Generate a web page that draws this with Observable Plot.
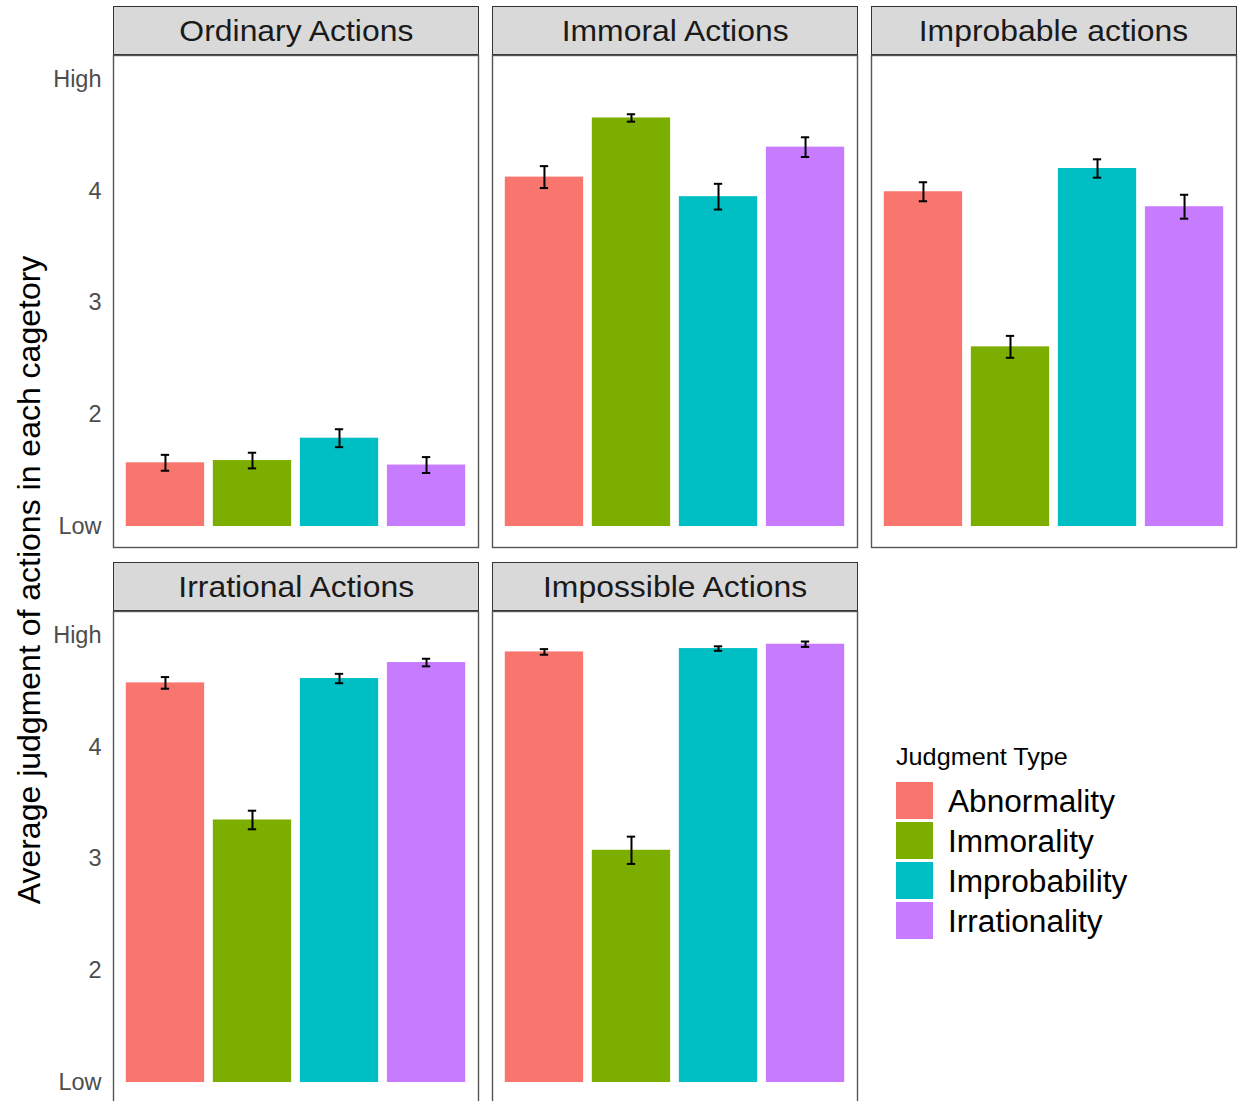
<!DOCTYPE html>
<html>
<head>
<meta charset="utf-8">
<script src="https://cdn.jsdelivr.net/npm/d3@7"></script>
<script src="https://cdn.jsdelivr.net/npm/@observablehq/plot@0.6"></script>
<style>
  html, body { margin: 0; padding: 0; background: #fff; }
  #root { position: relative; width: 1238px; height: 1101px; overflow: hidden; background: #fff;
          font-family: "Liberation Sans", Arial, sans-serif; }
  .strip { position: absolute; box-sizing: border-box; background: #d9d9d9; border: 1.4px solid #333;
           display: flex; align-items: center; justify-content: center; color: #1a1a1a; font-size: 29px; padding-top: 2px; }
  .strip span { display: inline-block; transform: scaleX(1.1); }
  .panel { position: absolute; }
  .ytitle { position: absolute; left: 29px; top: 580px; transform: translate(-50%, -50%) rotate(-90deg);
            white-space: nowrap; font-size: 32px; color: #000; }
  .legend { position: absolute; left: 896px; top: 742px; color: #000; }
  .legend .ttl { font-size: 24px; line-height: 30px; margin-bottom: 8px; transform: scaleX(1.05); transform-origin: left; }
  .legend .row { display: flex; align-items: center; height: 40px; }
  .legend .sw { width: 37px; height: 37px; margin-right: 15px; }
  .legend .lab { font-size: 31px; padding-top: 4px; transform: scaleX(1.02); transform-origin: left; }
</style>
</head>
<body>
<div id="root"></div>
<script>
// ---- data ----
const categories = ["Ordinary Actions", "Immoral Actions", "Improbable actions", "Irrational Actions", "Impossible Actions"];
const judgmentTypes = ["Abnormality", "Immorality", "Improbability", "Irrationality"];
const colors = ["#F8766D", "#7CAE00", "#00BFC4", "#C77CFF"];

// mean judgments per category (order of categories above)
const abnormality   = [1.57, 4.125, 3.994, 4.574, 4.851];
const immorality    = [1.59, 4.654, 2.607, 3.348, 3.077];
const improbability = [1.79, 3.95,  4.202, 4.613, 4.881];
const irrationality = [1.55, 4.393, 3.86,  4.756, 4.92];

// standard errors
const seAbnormality   = [0.071, 0.098, 0.085, 0.052, 0.025];
const seImmorality    = [0.070, 0.033, 0.098, 0.083, 0.122];
const seImprobability = [0.080, 0.115, 0.082, 0.042, 0.020];
const seIrrationality = [0.071, 0.088, 0.107, 0.034, 0.024];

const yTicks = [1, 2, 3, 4, 5];
const yTickLabels = ["Low", "2", "3", "4", "High"];

// ---- build table ----
const seriesMeans = [abnormality, immorality, improbability, irrationality];
const seriesSE = [seAbnormality, seImmorality, seImprobability, seIrrationality];
const data = [];
categories.forEach((cat, ci) => {
  judgmentTypes.forEach((t, ti) => {
    data.push({category: cat, type: t, mean: seriesMeans[ti][ci], se: seriesSE[ti][ci]});
  });
});

// ---- layout ----
const root = document.getElementById("root");
const colLeft = [113, 492, 871];
const rowTop = [6, 562];
const panelW = 365, stripH = 49, panelH = 492;
const font = '"Liberation Sans", Arial, sans-serif';

categories.forEach((cat, i) => {
  const col = i % 3, row = Math.floor(i / 3);
  const left = colLeft[col], top = rowTop[row];

  const strip = document.createElement("div");
  strip.className = "strip";
  Object.assign(strip.style, {left: left + "px", top: top + "px", width: (panelW + 1) + "px", height: stripH + "px"});
  const sp = document.createElement("span");
  sp.textContent = cat;
  strip.appendChild(sp);
  root.appendChild(strip);

  const ml = col === 0 ? left : 0;
  const sub = data.filter(d => d.category === cat);
  const plot = Plot.plot({
    width: panelW + ml,
    height: panelH,
    marginLeft: ml, marginRight: 0, marginTop: 0, marginBottom: 0,
    style: {fontFamily: font, fontSize: "23.5px", color: "#4d4d4d", background: "transparent", overflow: "visible"},
    x: {domain: judgmentTypes, paddingInner: 0.1, paddingOuter: 0.147, round: false, axis: null},
    y: {domain: [0.8125, 5.2125], axis: null},
    color: {domain: judgmentTypes, range: colors},
    marks: [
      Plot.barY(sub, {x: "type", y1: 1, y2: "mean", fill: "type"}),
      Plot.ruleX(sub, {x: "type", y1: d => d.mean - d.se, y2: d => d.mean + d.se, stroke: "#000", strokeWidth: 2}),
      Plot.tickY(sub, {x: "type", y: d => d.mean - d.se, stroke: "#000", strokeWidth: 2, insetLeft: 35, insetRight: 35}),
      Plot.tickY(sub, {x: "type", y: d => d.mean + d.se, stroke: "#000", strokeWidth: 2, insetLeft: 35, insetRight: 35}),
      col === 0 ? Plot.axisY(yTicks, {tickSize: 0, tickPadding: 12, tickFormat: (d, j) => yTickLabels[j], fill: "#4d4d4d", fontSize: 23.5, label: null}) : null,
      Plot.frame({stroke: "#555", strokeWidth: 1.4})
    ]
  });
  plot.classList.add("panel");
  Object.assign(plot.style, {left: (left - ml) + "px", top: (top + stripH) + "px"});
  root.appendChild(plot);
});

// y-axis title
const yt = document.createElement("div");
yt.className = "ytitle";
yt.textContent = "Average judgment of actions in each cagetory";
root.appendChild(yt);

// legend
const lg = document.createElement("div");
lg.className = "legend";
const ttl = document.createElement("div");
ttl.className = "ttl";
ttl.textContent = "Judgment Type";
lg.appendChild(ttl);
judgmentTypes.forEach((t, i) => {
  const r = document.createElement("div");
  r.className = "row";
  const sw = document.createElement("div");
  sw.className = "sw";
  sw.style.background = colors[i];
  const lab = document.createElement("div");
  lab.className = "lab";
  lab.textContent = t;
  r.appendChild(sw); r.appendChild(lab);
  lg.appendChild(r);
});
root.appendChild(lg);
</script>
</body>
</html>
